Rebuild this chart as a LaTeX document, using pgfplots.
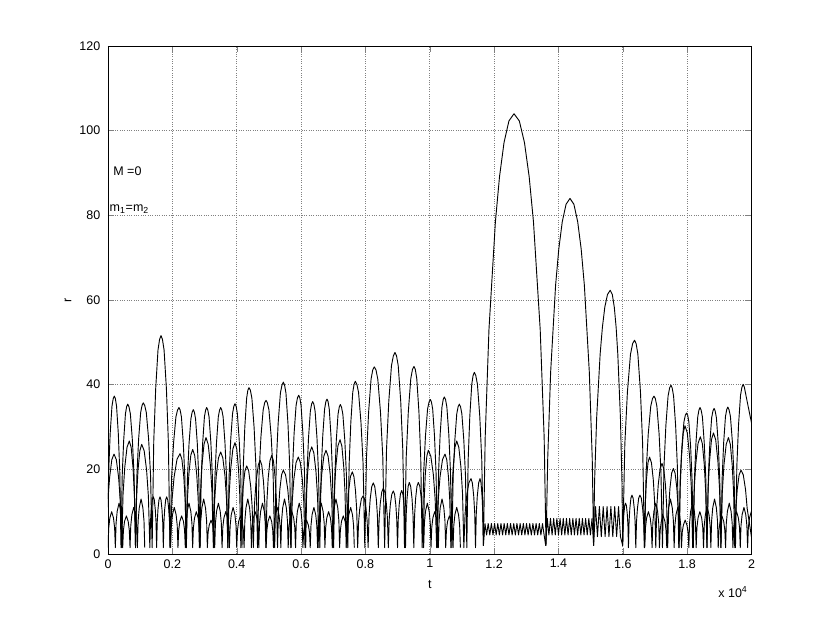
\documentclass[border=0pt]{standalone}
\usepackage{fontspec}
\setmainfont{Liberation Sans}
\usepackage{pgfplots}
\pgfplotsset{compat=1.18}
\pgfplotsset{rr/.style={black, line width=0.55pt, line join=round}}
\begin{document}
\begin{tikzpicture}[font=\fontsize{7.5}{9}\selectfont]
\begin{axis}[
  scale only axis, width=386.1pt, height=304.8pt,
  xmin=0, xmax=20000, ymin=0, ymax=120,
  xtick={0,2000,4000,6000,8000,10000,12000,14000,16000,18000,20000},
  xticklabels={0,0.2,0.4,0.6,0.8,1,1.2,1.4,1.6,1.8,2},
  scaled x ticks=false,
  ytick={0,20,40,60,80,100,120},
  /pgf/number format/assume math mode=true,
  tick align=inside, major tick length=3.5pt,
  grid=major, grid style={densely dotted, black!50, line width=0.4pt},
  axis line style={black, line width=0.5pt},
  xticklabel style={yshift=0.3pt},
  yticklabel style={xshift=-1.1pt},
  clip mode=individual,
  x filter/.expression={0.99297*x},
]
% series A (tall arches and the big excursions)
\addplot[rr] coordinates {
(0,11)(21,19.4)(68,28.4)(124,34.9)(163,36.7)(197,37.3)(231,36.7)(268,34.9)(323,28.4)(369,19.4)(407,1.5)
(445,18.5)(491,26.9)(546,33.1)(583,34.8)(617,35.4)(656,34.8)(700,33.1)(763,26.9)(817,18.5)(861,1.5)
(905,18.6)(959,27.2)(1022,33.4)(1066,35.1)(1105,35.7)(1149,35.1)(1199,33.4)(1271,27.2)(1332,18.6)(1382,1.5)
(1432,26.6)(1493,39.1)(1565,48.2)(1615,50.7)(1659,51.6)(1704,50.7)(1755,48.2)(1828,39.1)(1889,26.6)(1940,1.5)
(1991,18.1)(2053,26.3)(2126,32.4)(2177,34.0)(2222,34.6)(2258,34.0)(2298,32.4)(2356,26.3)(2406,18.1)(2446,1.5)
(2486,17.8)(2536,26.0)(2594,31.9)(2634,33.5)(2670,34.1)(2704,33.5)(2741,31.9)(2796,26.0)(2842,17.8)(2880,1.5)
(2918,18.1)(2964,26.3)(3018,32.4)(3056,34.0)(3089,34.6)(3124,34.0)(3163,32.4)(3220,26.3)(3269,18.1)(3308,1.5)
(3347,18.1)(3396,26.3)(3453,32.4)(3492,34.0)(3527,34.6)(3563,34.0)(3603,32.4)(3661,26.3)(3711,18.1)(3751,1.5)
(3791,18.5)(3841,27.0)(3899,33.2)(3939,34.9)(3975,35.5)(4010,34.9)(4049,33.2)(4106,27.0)(4155,18.5)(4194,1.5)
(4233,20.4)(4282,29.9)(4339,36.8)(4378,38.7)(4413,39.3)(4456,38.7)(4504,36.8)(4573,29.9)(4632,20.4)(4680,1.5)
(4728,18.9)(4786,27.6)(4856,34.0)(4903,35.7)(4946,36.3)(4989,35.7)(5038,34.0)(5109,27.6)(5168,18.9)(5217,1.5)
(5266,21.1)(5325,30.8)(5396,38.0)(5445,39.9)(5488,40.6)(5527,39.9)(5570,38.0)(5633,30.8)(5686,21.1)(5729,1.5)
(5772,19.5)(5825,28.5)(5887,35.1)(5931,36.9)(5969,37.5)(6004,36.9)(6043,35.1)(6100,28.5)(6149,19.5)(6188,1.5)
(6227,18.8)(6276,27.4)(6333,33.7)(6372,35.4)(6407,36.0)(6443,35.4)(6483,33.7)(6541,27.4)(6591,18.8)(6631,1.5)
(6671,19.1)(6721,27.8)(6779,34.2)(6819,36.0)(6855,36.6)(6888,36.0)(6926,34.2)(6980,27.8)(7026,19.1)(7063,1.5)
(7100,18.4)(7146,26.9)(7200,33.0)(7238,34.7)(7271,35.3)(7309,34.7)(7351,33.0)(7412,26.9)(7464,18.4)(7506,1.5)
(7548,21.2)(7600,31.0)(7661,38.2)(7703,40.1)(7741,40.8)(7789,40.1)(7842,38.2)(7919,31.0)(7985,21.2)(8038,1.5)
(8091,22.9)(8157,33.5)(8234,41.3)(8287,43.5)(8335,44.2)(8387,43.5)(8445,41.3)(8529,33.5)(8601,22.9)(8659,1.5)
(8717,24.6)(8789,36.1)(8873,44.5)(8931,46.8)(8983,47.6)(9031,46.8)(9084,44.5)(9162,36.1)(9227,24.6)(9281,1.5)
(9334,22.9)(9400,33.6)(9477,41.4)(9530,43.6)(9578,44.3)(9619,43.6)(9665,41.4)(9732,33.6)(9788,22.9)(9834,1.5)
(9880,19.0)(9936,27.8)(10002,34.2)(10048,35.9)(10089,36.5)(10124,35.9)(10163,34.2)(10220,27.8)(10269,19.0)(10308,1.5)
(10347,19.3)(10396,28.2)(10453,34.7)(10492,36.5)(10527,37.1)(10565,36.5)(10607,34.7)(10668,28.2)(10720,19.3)(10762,1.5)
(10804,18.5)(10856,26.9)(10916,33.1)(10959,34.8)(10996,35.4)(11034,34.8)(11076,33.1)(11137,26.9)(11189,18.5)(11231,1.5)
(11273,22.2)(11325,32.6)(11386,40.1)(11428,42.2)(11466,42.9)(11511,42.2)(11563,40.1)(11636,32.6)(11699,22.2)(11750,2)
(11806,27.5)(11924,53)(12126,78.5)(12254,89.1)(12396,97.2)(12549,102.3)(12708,104)(12874,102.3)(13035,97.2)(13183,89.1)(13317,78.5)(13528,53)(13652,27.5)(13710,2)
(13763,22.5)(13855,43)(14010,63.5)(14109,72.0)(14219,78.5)(14337,82.6)(14460,84)(14583,82.6)(14701,78.5)(14811,72.0)(14910,63.5)(15065,43)(15157,22.5)(15200,2)
(15230,17.1)(15295,32.2)(15404,47.2)(15474,53.5)(15550,58.3)(15634,61.3)(15720,62.3)(15785,61.3)(15847,58.3)(15905,53.5)(15957,47.2)(16039,32.2)(16087,17.1)(16110,2)
(16177,26.0)(16258,38.3)(16354,47.2)(16421,49.7)(16480,50.5)(16530,49.7)(16585,47.2)(16666,38.3)(16734,26.0)(16790,1.5)
(16844,19.4)(16910,28.4)(16988,34.9)(17042,36.7)(17090,37.3)(17132,36.7)(17180,34.9)(17249,28.4)(17307,19.4)(17355,1.5)
(17403,20.7)(17461,30.3)(17530,37.3)(17578,39.2)(17620,39.9)(17659,39.2)(17703,37.3)(17767,30.3)(17821,20.7)(17865,1.5)
(17909,17.4)(17963,25.4)(18027,31.2)(18071,32.8)(18110,33.3)(18144,32.8)(18181,31.2)(18236,25.4)(18282,17.4)(18320,1.5)
(18358,18.1)(18404,26.3)(18459,32.4)(18496,34.0)(18530,34.6)(18565,34.0)(18605,32.4)(18662,26.3)(18710,18.1)(18750,1.5)
(18790,18.0)(18838,26.2)(18895,32.2)(18935,33.8)(18970,34.4)(19004,33.8)(19043,32.2)(19099,26.2)(19146,18.0)(19185,1.5)
(19224,18.1)(19271,26.4)(19327,32.5)(19366,34.1)(19400,34.7)(19438,34.1)(19482,32.5)(19544,26.4)(19597,18.1)(19640,1.5)
(19683,20.8)(19736,30.5)(19798,37.5)(19842,39.4)(19880,40.1)(19918,39.4)(19980,37.0)(20060,34.0)(20141,31.0)
};
% series B (middle arches, small arches and the close-binary oscillation)
\addplot[rr] coordinates {
(0,13)(51,18.1)(120,22.3)(188,23.6)(260,22.3)(332,18.1)(385,12.6)(428,1.5)
(471,14.1)(524,20.4)(595,25.2)(667,26.7)(725,25.2)(783,20.4)(826,14.1)(861,1.5)
(896,13.7)(939,19.8)(997,24.4)(1055,25.9)(1132,24.4)(1208,19.8)(1264,13.7)(1310,1.5)
(1329,7.5)(1353,10.5)(1386,12.8)(1418,13.5)(1449,12.8)(1480,10.5)(1503,7.5)(1522,1.5)
(1541,7.5)(1564,10.5)(1596,12.8)(1627,13.5)(1659,12.8)(1690,10.5)(1713,7.5)(1732,1.5)
(1751,7.5)(1774,10.5)(1806,12.8)(1837,13.5)(1869,12.8)(1902,10.5)(1926,7.5)(1945,1.5)
(2001,12.6)(2069,18.2)(2161,22.4)(2254,23.7)(2313,22.4)(2373,18.2)(2416,12.6)(2452,1.5)
(2488,13.1)(2532,18.9)(2591,23.3)(2651,24.7)(2713,23.3)(2776,18.9)(2822,13.1)(2859,1.5)
(2896,14.5)(2942,21.0)(3005,25.9)(3067,27.5)(3136,25.9)(3205,21.0)(3256,14.5)(3297,1.5)
(3338,12.8)(3389,18.5)(3458,22.7)(3527,24.1)(3594,22.7)(3661,18.5)(3711,12.8)(3751,1.5)
(3791,13.9)(3841,20.1)(3908,24.8)(3975,26.3)(4030,24.8)(4085,20.1)(4125,13.9)(4158,1.5)
(4191,11.2)(4231,16.0)(4286,19.6)(4341,20.8)(4404,19.6)(4466,16.0)(4512,11.2)(4550,1.5)
(4587,11.9)(4633,17.0)(4704,21.0)(4758,22.2)(4813,21.0)(4868,17.0)(4908,11.9)(4941,1.5)
(4974,12.4)(5014,17.9)(5069,22.0)(5124,23.3)(5179,22.0)(5233,17.9)(5273,12.4)(5306,1.5)
(5339,10.7)(5378,15.2)(5433,18.7)(5487,19.8)(5558,18.7)(5628,15.2)(5680,10.7)(5722,1.5)
(5764,12.2)(5816,17.6)(5887,21.6)(5957,22.9)(6020,21.6)(6083,17.6)(6129,12.2)(6167,1.5)
(6205,13.4)(6251,19.4)(6313,23.9)(6376,25.3)(6443,23.9)(6510,19.4)(6560,13.4)(6600,1.5)
(6640,13.0)(6689,18.8)(6756,23.1)(6823,24.5)(6889,23.1)(6955,18.8)(7003,13.0)(7043,1.5)
(7082,14.3)(7131,20.6)(7196,25.5)(7262,27.0)(7320,25.5)(7378,20.6)(7420,14.3)(7455,1.5)
(7490,10.5)(7532,14.9)(7589,18.3)(7647,19.4)(7697,18.3)(7747,14.9)(7784,10.5)(7814,1.5)
(7844,7.6)(7880,10.7)(7930,13.0)(7980,13.7)(8029,13.0)(8077,10.7)(8113,7.6)(8142,1.5)
(8171,9.2)(8207,13.0)(8255,15.9)(8304,16.8)(8351,15.9)(8398,13.0)(8432,9.2)(8460,1.5)
(8488,8.5)(8523,12.0)(8570,14.7)(8617,15.5)(8664,14.7)(8711,12.0)(8746,8.5)(8774,1.5)
(8802,8.2)(8836,11.6)(8883,14.1)(8930,14.9)(8970,14.1)(9009,11.6)(9038,8.2)(9062,1.5)
(9086,8.3)(9114,11.6)(9154,14.2)(9193,15.0)(9229,14.2)(9264,11.6)(9291,8.3)(9312,1.5)
(9333,9.2)(9360,13.1)(9395,16.0)(9431,16.9)(9473,16.0)(9516,13.1)(9547,9.2)(9572,1.5)
(9597,9.2)(9628,13.1)(9671,16.0)(9713,16.9)(9760,16.0)(9807,13.1)(9842,9.2)(9870,1.5)
(9898,13.0)(9932,18.8)(9979,23.1)(10026,24.5)(10104,23.1)(10183,18.8)(10240,13.0)(10287,1.5)
(10334,12.6)(10391,18.1)(10470,22.3)(10548,23.6)(10603,22.3)(10658,18.1)(10698,12.6)(10731,1.5)
(10764,14.1)(10804,20.4)(10859,25.2)(10914,26.7)(10981,25.2)(11048,20.4)(11098,14.1)(11138,1.5)
(11178,9.7)(11228,13.7)(11295,16.8)(11362,17.8)(11404,16.8)(11447,13.7)(11478,9.7)(11503,1.5)
(11528,9.7)(11559,13.7)(11602,16.8)(11644,17.8)(11676,16.8)(11708,13.7)(11731,9.7)(11750,2)
(11800,7.2)(11850,4.5)(11900,7.2)(11950,4.5)(12000,7.2)(12050,4.5)(12100,7.2)(12150,4.5)(12200,7.2)(12250,4.5)
(12300,7.2)(12350,4.5)(12400,7.2)(12450,4.5)(12500,7.2)(12550,4.5)(12600,7.2)(12650,4.5)(12700,7.2)(12750,4.5)
(12800,7.2)(12850,4.5)(12900,7.2)(12950,4.5)(13000,7.2)(13050,4.5)(13100,7.2)(13150,4.5)(13200,7.2)(13250,4.5)
(13300,7.2)(13350,4.5)(13400,7.2)(13450,4.5)(13500,7.2)(13550,4.5)(13600,7.2)(13650,4.5)(13700,2)
(13750,8.4)(13800,4.5)(13850,8.4)(13900,4.5)(13950,8.4)(14000,4.5)(14050,8.4)(14100,4.5)(14150,8.4)(14200,4.5)
(14250,8.4)(14300,4.5)(14350,8.4)(14400,4.5)(14450,8.4)(14500,4.5)(14550,8.4)(14600,4.5)(14650,8.4)(14700,4.5)
(14750,8.4)(14800,4.5)(14850,8.4)(14900,4.5)(14950,8.4)(15000,4.5)(15050,8.4)(15100,4.5)(15150,8.4)(15200,2)
(15260,11.2)(15320,4.1)(15380,11.2)(15440,4.1)(15500,11.2)(15560,4.1)(15620,11.2)(15680,4.1)(15740,11.2)
(15800,4.1)(15860,11.2)(15920,4.1)(15980,11.2)(16040,4.1)(16110,2)
(16126,6.8)(16146,9.4)(16173,11.4)(16200,12)(16227,11.4)(16254,9.4)(16274,6.8)(16290,1.5)
(16310,7.7)(16334,10.8)(16367,13.2)(16400,13.9)(16436,13.2)(16472,10.8)(16498,7.7)(16520,1.5)
(16543,7.7)(16572,10.8)(16611,13.2)(16650,13.9)(16692,13.2)(16734,10.8)(16765,7.7)(16790,1.5)
(16819,12.2)(16854,17.6)(16902,21.6)(16950,22.9)(17009,21.6)(17067,17.6)(17110,12.2)(17145,1.5)
(17180,11.5)(17223,16.4)(17282,20.2)(17340,21.4)(17393,20.2)(17447,16.4)(17486,11.5)(17518,1.5)
(17550,10.9)(17589,15.5)(17642,19.1)(17695,20.2)(17750,19.1)(17805,15.5)(17845,10.9)(17878,1.5)
(17911,15.9)(17951,23.1)(18005,28.6)(18060,30.3)(18132,28.6)(18204,23.1)(18257,15.9)(18300,1.5)
(18343,14.6)(18396,21.2)(18468,26.1)(18540,27.7)(18602,26.1)(18663,21.2)(18708,14.6)(18745,1.5)
(18782,15.1)(18827,21.8)(18889,27.0)(18950,28.6)(19021,27.0)(19091,21.8)(19143,15.1)(19185,1.5)
(19227,14.5)(19279,21.0)(19350,25.9)(19420,27.5)(19479,25.9)(19538,21.0)(19582,14.5)(19617,1.5)
(19652,10.7)(19695,15.2)(19754,18.7)(19813,19.8)(19884,18.7)(19955,15.2)(20007,10.7)(20141,4)
};
% series C (low arches)
\addplot[rr] coordinates {
(0,1.5)(23,6.2)(58,8.5)(115,10)(172,8.5)(207,6.2)(230,1.5)(253,7.3)(288,10.1)(345,12)(402,10.1)(437,7.3)(460,1.5)
(483,5.6)(518,7.7)(575,9)(632,7.7)(667,5.6)(690,1.5)(713,6.7)(748,9.3)(805,11)(862,9.3)(897,6.7)(920,1.5)
(943,7.8)(978,10.9)(1035,13)(1092,10.9)(1127,7.8)(1150,1.5)
};
\addplot[rr] coordinates {
(1960,1.5)(1983,6.7)(2018,9.3)(2075,11)(2132,9.3)(2167,6.7)(2190,1.5)
(2213,5.6)(2248,7.7)(2305,9)(2362,7.7)(2397,5.6)(2420,1.5)
(2443,7.3)(2478,10.1)(2535,12)(2592,10.1)(2627,7.3)(2650,1.5)
(2673,6.2)(2708,8.5)(2765,10)(2822,8.5)(2857,6.2)(2880,1.5)
(2903,7.8)(2938,10.9)(2995,13)(3052,10.9)(3087,7.8)(3110,1.5)
(3133,5.1)(3168,6.8)(3225,8)(3282,6.8)(3317,5.1)(3340,1.5)
(3363,7.3)(3398,10.1)(3455,12)(3512,10.1)(3547,7.3)(3570,1.5)
(3593,6.2)(3628,8.5)(3685,10)(3742,8.5)(3777,6.2)(3800,1.5)
(3823,6.7)(3858,9.3)(3915,11)(3972,9.3)(4007,6.7)(4030,1.5)
(4053,5.6)(4088,7.7)(4145,9)(4202,7.7)(4237,5.6)(4260,1.5)
(4283,7.8)(4318,10.9)(4375,13)(4432,10.9)(4467,7.8)(4490,1.5)
(4513,6.2)(4548,8.5)(4605,10)(4662,8.5)(4697,6.2)(4720,1.5)
(4743,7.3)(4778,10.1)(4835,12)(4892,10.1)(4927,7.3)(4950,1.5)
(4973,5.6)(5008,7.7)(5065,9)(5122,7.7)(5157,5.6)(5180,1.5)
(5203,6.7)(5238,9.3)(5295,11)(5352,9.3)(5387,6.7)(5410,1.5)
(5433,7.8)(5468,10.9)(5525,13)(5582,10.9)(5617,7.8)(5640,1.5)
(5663,6.2)(5698,8.5)(5755,10)(5812,8.5)(5847,6.2)(5870,1.5)
(5893,7.3)(5928,10.1)(5985,12)(6042,10.1)(6077,7.3)(6100,1.5)
(6123,5.1)(6158,6.8)(6215,8)(6272,6.8)(6307,5.1)(6330,1.5)
(6353,6.7)(6388,9.3)(6445,11)(6502,9.3)(6537,6.7)(6560,1.5)
(6583,7.3)(6618,10.1)(6675,12)(6732,10.1)(6767,7.3)(6790,1.5)
(6813,6.2)(6848,8.5)(6905,10)(6962,8.5)(6997,6.2)(7020,1.5)
(7043,7.8)(7078,10.9)(7135,13)(7192,10.9)(7227,7.8)(7250,1.5)
(7273,5.6)(7308,7.7)(7365,9)(7422,7.7)(7457,5.6)(7480,1.5)
(7503,6.7)(7538,9.3)(7595,11)(7652,9.3)(7687,6.7)(7710,1.5)
};
\addplot[rr] coordinates {
(9880,1.5)(9903,7.3)(9938,10.1)(9995,12)(10052,10.1)(10087,7.3)(10110,1.5)
(10133,6.2)(10168,8.5)(10225,10)(10282,8.5)(10317,6.2)(10340,1.5)
(10363,7.8)(10398,10.9)(10455,13)(10512,10.9)(10547,7.8)(10570,1.5)
(10593,5.6)(10628,7.7)(10685,9)(10742,7.7)(10777,5.6)(10800,1.5)
(10823,6.7)(10858,9.3)(10915,11)(10972,9.3)(11007,6.7)(11030,1.5)
};
\addplot[rr] coordinates {
(16800,1.5)(16823,6.2)(16858,8.5)(16915,10)(16972,8.5)(17007,6.2)(17030,1.5)
(17053,7.3)(17088,10.1)(17145,12)(17202,10.1)(17237,7.3)(17260,1.5)
(17283,5.6)(17318,7.7)(17375,9)(17432,7.7)(17467,5.6)(17490,1.5)
(17513,7.8)(17548,10.9)(17605,13)(17662,10.9)(17697,7.8)(17720,1.5)
(17743,6.7)(17778,9.3)(17835,11)(17892,9.3)(17927,6.7)(17950,1.5)
(17973,5.1)(18008,6.8)(18065,8)(18122,6.8)(18157,5.1)(18180,1.5)
(18203,7.3)(18238,10.1)(18295,12)(18352,10.1)(18387,7.3)(18410,1.5)
(18433,6.2)(18468,8.5)(18525,10)(18582,8.5)(18617,6.2)(18640,1.5)
(18663,6.7)(18698,9.3)(18755,11)(18812,9.3)(18847,6.7)(18870,1.5)
(18893,7.8)(18928,10.9)(18985,13)(19042,10.9)(19077,7.8)(19100,1.5)
(19123,5.6)(19158,7.7)(19215,9)(19272,7.7)(19307,5.6)(19330,1.5)
(19353,7.3)(19388,10.1)(19445,12)(19502,10.1)(19537,7.3)(19560,1.5)
(19583,6.2)(19618,8.5)(19675,10)(19732,8.5)(19767,6.2)(19790,1.5)
(19813,6.7)(19848,9.3)(19905,11)(19962,9.3)(19997,6.7)(20020,1.5)
(20043,6.2)(20078,8.5)(20135,10)(20141,9.9)
};
\node[anchor=base west, inner sep=0pt] at (rel axis cs:0.0078,0.746) {M =0};
\node[anchor=base west, inner sep=0pt] at (rel axis cs:0.002,0.674) {m\textsubscript{1}=m\textsubscript{2}};
\node at ([yshift=-18.6pt]rel axis cs:0.5,0) {t};
\node[rotate=90] at ([xshift=-24pt]rel axis cs:0,0.5) {r};
\node[anchor=west, inner sep=0pt] at ([xshift=-20.1pt, yshift=-22.6pt]rel axis cs:1,0) {x 10\textsuperscript{4}};
\end{axis}
\pgfresetboundingbox
\useasboundingbox (-64.8pt,-41.4pt) rectangle (433.2pt,332.4pt);
\end{tikzpicture}
\end{document}
